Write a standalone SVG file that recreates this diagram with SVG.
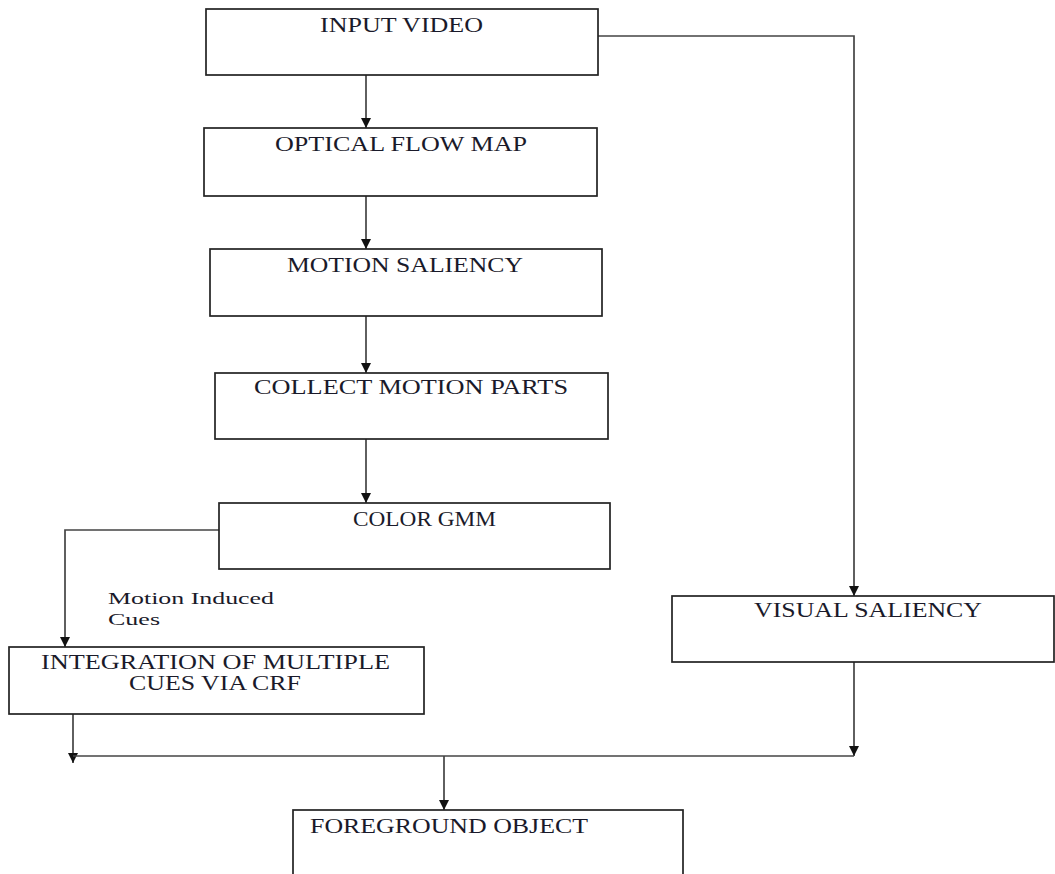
<svg xmlns="http://www.w3.org/2000/svg" width="1055" height="874" viewBox="0 0 1055 874">
<defs>
<marker id="arr" markerUnits="userSpaceOnUse" markerWidth="12" markerHeight="12" refX="10" refY="5" orient="auto">
<path d="M0,0 L10,5 L0,10 z" fill="#111"/>
</marker>
<style>
.box{fill:#fff;stroke:#222;stroke-width:1.7}
.t{font-family:"Liberation Serif","Times New Roman",serif;font-size:20px;fill:#1a1a2a}
.lbl{font-family:"Liberation Serif","Times New Roman",serif;font-size:17.5px;fill:#1a1a2a}
.c{fill:none;stroke:#444;stroke-width:1.7}
</style>
</defs>
<rect width="1055" height="874" fill="#fff"/>
<g id="connectors">
<line class="c" x1="366" y1="75" x2="366" y2="128" marker-end="url(#arr)"/>
<line class="c" x1="366" y1="196" x2="366" y2="249" marker-end="url(#arr)"/>
<line class="c" x1="366" y1="316" x2="366" y2="373" marker-end="url(#arr)"/>
<line class="c" x1="366" y1="436" x2="366" y2="503" marker-end="url(#arr)"/>
<polyline class="c" points="219,530 65,530 65,647" marker-end="url(#arr)"/>
<polyline class="c" points="598,36 854,36 854,596" marker-end="url(#arr)"/>
<line class="c" x1="73" y1="711" x2="73" y2="763" marker-end="url(#arr)"/>
<line class="c" x1="854" y1="662" x2="854" y2="756" marker-end="url(#arr)"/>
<line class="c" x1="73" y1="756" x2="854" y2="756"/>
<line class="c" x1="444" y1="756" x2="444" y2="810" marker-end="url(#arr)"/>
</g>
<g id="input-video">
<rect class="box" x="206" y="9" width="392" height="66"/>
<text class="t" x="320" y="32" textLength="163" lengthAdjust="spacingAndGlyphs">INPUT VIDEO</text>
</g>
<g id="optical-flow-map">
<rect class="box" x="204" y="128" width="393" height="68"/>
<text class="t" x="275" y="151" textLength="252" lengthAdjust="spacingAndGlyphs">OPTICAL FLOW MAP</text>
</g>
<g id="motion-saliency">
<rect class="box" x="210" y="249" width="392" height="67"/>
<text class="t" x="287" y="272" textLength="236" lengthAdjust="spacingAndGlyphs">MOTION SALIENCY</text>
</g>
<g id="collect-motion-parts">
<rect class="box" x="215" y="373" width="393" height="66"/>
<text class="t" x="254" y="394" textLength="314" lengthAdjust="spacingAndGlyphs">COLLECT MOTION PARTS</text>
</g>
<g id="color-gmm">
<rect class="box" x="219" y="503" width="391" height="66"/>
<text class="t" x="353" y="526" textLength="143" lengthAdjust="spacingAndGlyphs">COLOR GMM</text>
</g>
<g id="motion-induced-cues-label">
<text class="lbl" x="108" y="604" textLength="166" lengthAdjust="spacingAndGlyphs">Motion Induced</text>
<text class="lbl" x="108" y="625" textLength="52" lengthAdjust="spacingAndGlyphs">Cues</text>
</g>
<g id="integration">
<rect class="box" x="9" y="647" width="415" height="67"/>
<text class="t" x="41" y="669" textLength="349" lengthAdjust="spacingAndGlyphs">INTEGRATION OF MULTIPLE</text>
<text class="t" x="129" y="690" textLength="172" lengthAdjust="spacingAndGlyphs">CUES VIA CRF</text>
</g>
<g id="visual-saliency">
<rect class="box" x="672" y="596" width="382" height="66"/>
<text class="t" x="754" y="617" textLength="228" lengthAdjust="spacingAndGlyphs">VISUAL SALIENCY</text>
</g>
<g id="foreground-object">
<rect class="box" x="293" y="810" width="390" height="80"/>
<text class="t" x="310" y="833" textLength="278" lengthAdjust="spacingAndGlyphs">FOREGROUND OBJECT</text>
</g>
</svg>
